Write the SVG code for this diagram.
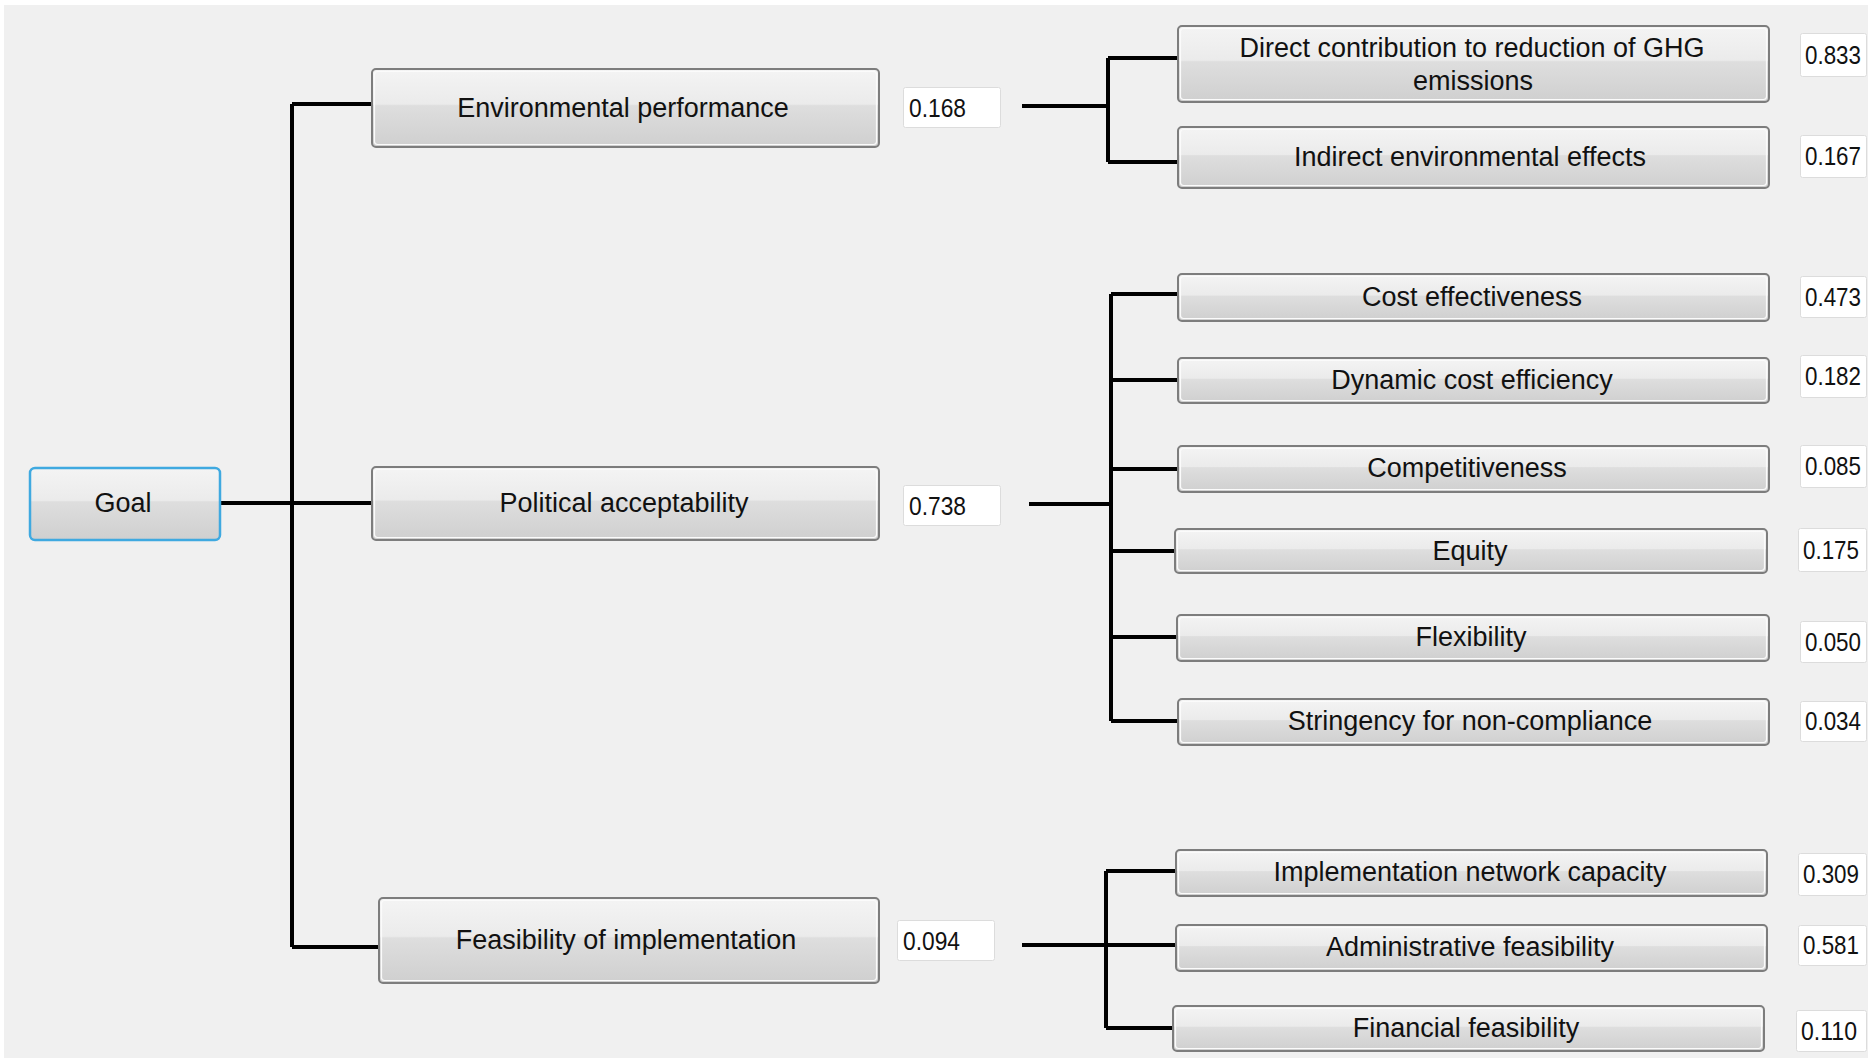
<svg xmlns="http://www.w3.org/2000/svg" width="1868" height="1058" viewBox="0 0 1868 1058">
<defs>
<linearGradient id="btn" x1="0" y1="0" x2="0" y2="1">
<stop offset="0" stop-color="#f4f4f4"/>
<stop offset="0.45" stop-color="#ebebeb"/>
<stop offset="0.47" stop-color="#dedede"/>
<stop offset="1" stop-color="#cfcfcf"/>
</linearGradient>
<style>
.btn{fill:url(#btn);stroke:#7d7d7d;stroke-width:2}
.goal{fill:url(#btn);stroke:#3fa9e0;stroke-width:2.5}
.hl{fill:none;stroke:#fbfbfb;stroke-width:1.2}
.val{fill:#ffffff;stroke:#dcdcdc;stroke-width:1}
.lbl{font-family:"Liberation Sans",Arial,sans-serif;font-size:27px;fill:#111111;text-anchor:middle}
.num{font-family:"Liberation Sans",Arial,sans-serif;font-size:26px;fill:#111111}
.con{fill:none;stroke:#000000;stroke-width:4}
</style>
</defs>
<rect x="0" y="0" width="1868" height="1058" fill="#ffffff"/>
<rect x="4" y="5" width="1864" height="1053" fill="#f0f0f0"/>

<g id="connectors" class="con">
<path d="M221,503 H372 M292,104 V947 M292,104 H372 M292,947 H379"/>
<path d="M1022,106 H1108 M1108,58 V162 M1108,58 H1178 M1108,162 H1178"/>
<path d="M1029,504 H1111 M1111,294 V721 M1111,294 H1178 M1111,380 H1178 M1111,469 H1178 M1111,551 H1175 M1111,637 H1177 M1111,721 H1178"/>
<path d="M1022,945 H1106 M1106,871 V1028 M1106,871 H1176 M1106,945 H1176 M1106,1028 H1173"/>
</g>

<g id="goal">
<rect class="goal" x="30" y="468" width="190" height="72" rx="5"/>
<text class="lbl" x="123" y="512">Goal</text>
</g>

<g id="env">
<rect class="btn" x="372" y="69" width="507" height="78" rx="4"/>
<rect class="hl" x="374.5" y="71.5" width="502" height="73" rx="3"/>
<text class="lbl" x="623" y="116.5">Environmental performance</text>
</g>
<g id="env-w">
<rect class="val" x="903.5" y="87.5" width="97" height="40" rx="2"/>
<text class="num" x="909" y="117" textLength="57" lengthAdjust="spacingAndGlyphs">0.168</text>
</g>

<g id="pol">
<rect class="btn" x="372" y="467" width="507" height="73" rx="4"/>
<rect class="hl" x="374.5" y="469.5" width="502" height="68" rx="3"/>
<text class="lbl" x="624" y="512">Political acceptability</text>
</g>
<g id="pol-w">
<rect class="val" x="903.5" y="485.5" width="97" height="40" rx="2"/>
<text class="num" x="909" y="515" textLength="57" lengthAdjust="spacingAndGlyphs">0.738</text>
</g>

<g id="feas">
<rect class="btn" x="379" y="898" width="500" height="85" rx="4"/>
<rect class="hl" x="381.5" y="900.5" width="495" height="80" rx="3"/>
<text class="lbl" x="626" y="949">Feasibility of implementation</text>
</g>
<g id="feas-w">
<rect class="val" x="897.5" y="920.5" width="97" height="40" rx="2"/>
<text class="num" x="903" y="950" textLength="57" lengthAdjust="spacingAndGlyphs">0.094</text>
</g>

<g id="c1">
<rect class="btn" x="1178" y="26" width="591" height="76" rx="4"/>
<rect class="hl" x="1180.5" y="28.5" width="586" height="71" rx="3"/>
<text class="lbl" x="1472" y="57">Direct contribution to reduction of GHG</text>
<text class="lbl" x="1473" y="90">emissions</text>
</g>
<g id="c1-w"><rect class="val" x="1800.5" y="33.5" width="66" height="43" rx="2"/><text class="num" x="1805" y="64" textLength="56" lengthAdjust="spacingAndGlyphs">0.833</text></g>

<g id="c2">
<rect class="btn" x="1178" y="127" width="591" height="61" rx="4"/>
<rect class="hl" x="1180.5" y="129.5" width="586" height="56" rx="3"/>
<text class="lbl" x="1470" y="166">Indirect environmental effects</text>
</g>
<g id="c2-w"><rect class="val" x="1800.5" y="135.5" width="66" height="42" rx="2"/><text class="num" x="1805" y="165" textLength="56" lengthAdjust="spacingAndGlyphs">0.167</text></g>

<g id="c3">
<rect class="btn" x="1178" y="274" width="591" height="47" rx="4"/>
<rect class="hl" x="1180.5" y="276.5" width="586" height="42" rx="3"/>
<text class="lbl" x="1472" y="306">Cost effectiveness</text>
</g>
<g id="c3-w"><rect class="val" x="1800.5" y="276.5" width="66" height="41" rx="2"/><text class="num" x="1805" y="306" textLength="56" lengthAdjust="spacingAndGlyphs">0.473</text></g>

<g id="c4">
<rect class="btn" x="1178" y="358" width="591" height="45" rx="4"/>
<rect class="hl" x="1180.5" y="360.5" width="586" height="40" rx="3"/>
<text class="lbl" x="1472" y="389">Dynamic cost efficiency</text>
</g>
<g id="c4-w"><rect class="val" x="1800.5" y="355.5" width="66" height="42" rx="2"/><text class="num" x="1805" y="385" textLength="56" lengthAdjust="spacingAndGlyphs">0.182</text></g>

<g id="c5">
<rect class="btn" x="1178" y="446" width="591" height="46" rx="4"/>
<rect class="hl" x="1180.5" y="448.5" width="586" height="41" rx="3"/>
<text class="lbl" x="1467" y="477">Competitiveness</text>
</g>
<g id="c5-w"><rect class="val" x="1800.5" y="445.5" width="66" height="42" rx="2"/><text class="num" x="1805" y="475" textLength="56" lengthAdjust="spacingAndGlyphs">0.085</text></g>

<g id="c6">
<rect class="btn" x="1175" y="529" width="592" height="44" rx="4"/>
<rect class="hl" x="1177.5" y="531.5" width="587" height="39" rx="3"/>
<text class="lbl" x="1470" y="560">Equity</text>
</g>
<g id="c6-w"><rect class="val" x="1798.5" y="528.5" width="68" height="43" rx="2"/><text class="num" x="1803" y="559" textLength="56" lengthAdjust="spacingAndGlyphs">0.175</text></g>

<g id="c7">
<rect class="btn" x="1177" y="615" width="592" height="46" rx="4"/>
<rect class="hl" x="1179.5" y="617.5" width="587" height="41" rx="3"/>
<text class="lbl" x="1471" y="646">Flexibility</text>
</g>
<g id="c7-w"><rect class="val" x="1800.5" y="621.5" width="66" height="41" rx="2"/><text class="num" x="1805" y="651" textLength="56" lengthAdjust="spacingAndGlyphs">0.050</text></g>

<g id="c8">
<rect class="btn" x="1178" y="699" width="591" height="46" rx="4"/>
<rect class="hl" x="1180.5" y="701.5" width="586" height="41" rx="3"/>
<text class="lbl" x="1470" y="730">Stringency for non-compliance</text>
</g>
<g id="c8-w"><rect class="val" x="1800.5" y="701.5" width="66" height="40" rx="2"/><text class="num" x="1805" y="730" textLength="56" lengthAdjust="spacingAndGlyphs">0.034</text></g>

<g id="c9">
<rect class="btn" x="1176" y="850" width="591" height="46" rx="4"/>
<rect class="hl" x="1178.5" y="852.5" width="586" height="41" rx="3"/>
<text class="lbl" x="1470" y="881">Implementation network capacity</text>
</g>
<g id="c9-w"><rect class="val" x="1798.5" y="853.5" width="68" height="42" rx="2"/><text class="num" x="1803" y="883" textLength="56" lengthAdjust="spacingAndGlyphs">0.309</text></g>

<g id="c10">
<rect class="btn" x="1176" y="925" width="591" height="46" rx="4"/>
<rect class="hl" x="1178.5" y="927.5" width="586" height="41" rx="3"/>
<text class="lbl" x="1470" y="956">Administrative feasibility</text>
</g>
<g id="c10-w"><rect class="val" x="1798.5" y="925.5" width="68" height="40" rx="2"/><text class="num" x="1803" y="954" textLength="56" lengthAdjust="spacingAndGlyphs">0.581</text></g>

<g id="c11">
<rect class="btn" x="1173" y="1006" width="591" height="45" rx="4"/>
<rect class="hl" x="1175.5" y="1008.5" width="586" height="40" rx="3"/>
<text class="lbl" x="1466" y="1037">Financial feasibility</text>
</g>
<g id="c11-w"><rect class="val" x="1796.5" y="1010.5" width="70" height="41" rx="2"/><text class="num" x="1801" y="1040" textLength="56" lengthAdjust="spacingAndGlyphs">0.110</text></g>
</svg>
